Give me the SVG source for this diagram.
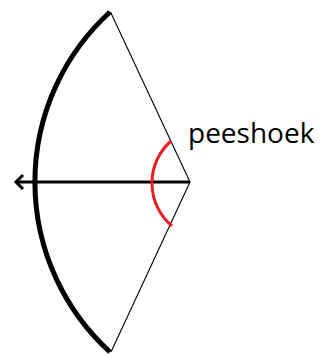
<svg xmlns="http://www.w3.org/2000/svg" width="335" height="356" viewBox="0 0 335 356">
<style>
.thin{fill:none;stroke:#000;stroke-width:1.1}
.bow{fill:none;stroke:#000;stroke-width:5}
.arr{fill:none;stroke:#000;stroke-width:3}
.red{fill:none;stroke:#ed1c24;stroke-width:3}
.lbl{font-family:"Open Sans","Noto Sans",sans-serif;font-size:28px;fill:#000}
</style>
<rect width="335" height="356" fill="#fff"/>
<g id="connectors">
<path class="thin" d="M110.5,12 L190,182 L111,352"/>
<path class="bow" d="M110,12 A230,230 0 0 0 110,352"/>
<path class="arr" d="M190,182 H17"/>
<path class="arr" d="M23,175 L16,182 L23,189"/>
<path class="red" d="M171,141 A56,56 0 0 0 172,226"/>
</g>
<g id="label">
<text class="lbl" x="188" y="143">peeshoek</text>
</g>
</svg>
